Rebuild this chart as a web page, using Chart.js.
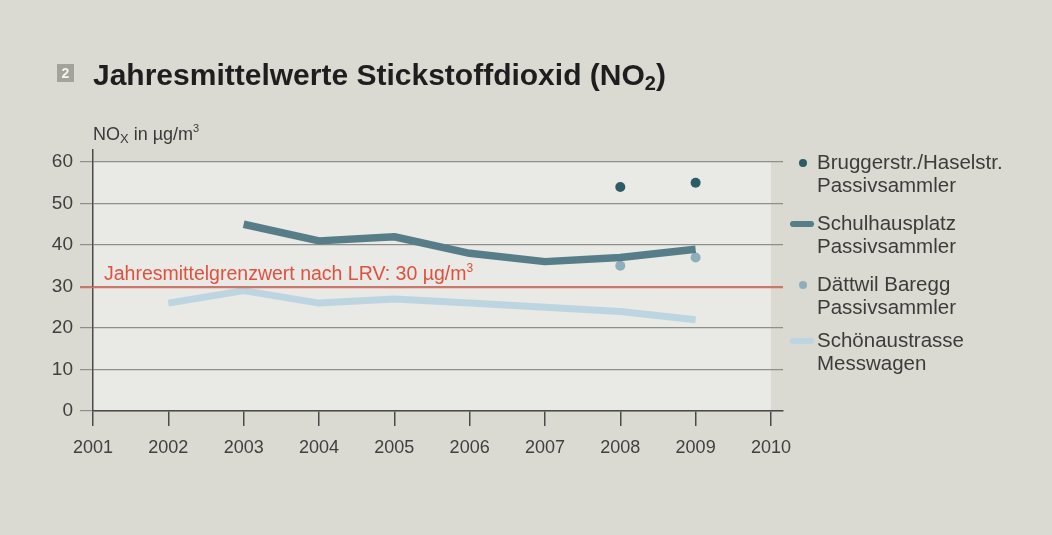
<!DOCTYPE html>
<html><head><meta charset="utf-8">
<script src="https://cdn.jsdelivr.net/npm/chart.js@4.4.0/dist/chart.umd.min.js"></script>
<style>html,body{margin:0;padding:0;background:#dadad2;}#wrap{width:1052px;height:535px;position:relative;}</style>
</head><body><div id="wrap"><canvas id="c" width="1052" height="535"></canvas></div>
<script>
const years = [2001,2002,2003,2004,2005,2006,2007,2008,2009,2010];
const yTicks = [0,10,20,30,40,50,60];
const bruggerYears = [2008,2009];
const bruggerValues = [54,55];
const schulYears = [2003,2004,2005,2006,2007,2008,2009];
const schulValues = [45,41,42,38,36,37,39];
const daettwilYears = [2008,2009];
const daettwilValues = [35,37];
const schoenYears = [2002,2003,2004,2005,2006,2007,2008,2009];
const schoenValues = [26,29,26,27,26,25,24,22];
const limitValue = 30;
const limitLabel = 'Jahresmittelgrenzwert nach LRV: 30 µg/m';
const seriesNames = [['Bruggerstr./Haselstr.','Passivsammler'],['Schulhausplatz','Passivsammler'],['Dättwil Baregg','Passivsammler'],['Schönaustrasse','Messwagen']];
const titleText = 'Jahresmittelwerte Stickstoffdioxid (NO';

const FONT = '"Liberation Sans", Arial, Helvetica, sans-serif';
const C_BRUG = '#2e5c64', C_SCHUL = '#567d88', C_DAET = '#8eaebb', C_SCHOEN = '#bcd5e1';
const pts = (xs, ys) => xs.map((x,i)=>({x, y: ys[i]}));

const deco = {
  id:'deco',
  beforeDraw(chart){
    const {ctx, scales:{x,y}} = chart;
    ctx.save();
    ctx.fillStyle = '#e9e9e5';
    const l = x.getPixelForValue(2001), r = x.getPixelForValue(2010);
    const t = y.getPixelForValue(60), b = y.getPixelForValue(0);
    ctx.fillRect(l, t, r-l, b-t);
    ctx.restore();
  },
  afterDatasetsDraw(chart){
    const {ctx, scales:{x,y}, chartArea} = chart;
    ctx.save();
    // limit line
    const ly = Math.round(y.getPixelForValue(limitValue))+0.5;
    ctx.strokeStyle = '#ec6a5a'; ctx.lineWidth = 1.3;
    ctx.beginPath(); ctx.moveTo(chartArea.left-13, ly); ctx.lineTo(chartArea.right, ly); ctx.stroke();
    ctx.fillStyle = '#e2503e'; ctx.font = '19.5px '+FONT; ctx.textBaseline='alphabetic'; ctx.textAlign='left';
    ctx.fillText(limitLabel, 104, ly-8);
    let lw = ctx.measureText(limitLabel).width;
    ctx.font = '12px '+FONT; ctx.fillText('3', 104+lw, ly-16);
    // title
    ctx.fillStyle = '#a3a39c'; ctx.fillRect(57,64,17,18);
    ctx.fillStyle = '#f4f4ef'; ctx.font = 'bold 14px '+FONT; ctx.textAlign='center';
    ctx.fillText('2', 65.5, 78);
    ctx.fillStyle = '#1e1e1e'; ctx.font = 'bold 30px '+FONT; ctx.textAlign='left';
    ctx.fillText(titleText, 93, 85);
    let w = ctx.measureText(titleText).width;
    ctx.font = 'bold 20px '+FONT; ctx.fillText('2', 93+w, 90);
    let w2 = ctx.measureText('2').width;
    ctx.font = 'bold 30px '+FONT; ctx.fillText(')', 93+w+w2, 85);
    // y title
    ctx.fillStyle = '#3a3a3a'; ctx.font = '18px '+FONT;
    ctx.fillText('NO', 93, 140);
    let a = ctx.measureText('NO').width;
    ctx.font = '13px '+FONT; ctx.fillText('X', 93+a, 143);
    let bx = ctx.measureText('X').width;
    ctx.font = '18px '+FONT; ctx.fillText(' in µg/m', 93+a+bx, 140);
    let c = ctx.measureText(' in µg/m').width;
    ctx.font = '11px '+FONT; ctx.fillText('3', 93+a+bx+c, 132);
    // legend
    const rows = [163, 224, 285, 341];
    const cols = [C_BRUG, C_SCHUL, C_DAET, C_SCHOEN];
    ctx.font = '20.5px '+FONT; ctx.textBaseline='middle';
    rows.forEach((ry,i)=>{
      ctx.fillStyle = cols[i]; ctx.strokeStyle = cols[i];
      if(i===0||i===2){ ctx.beginPath(); ctx.arc(803, ry, 4, 0, Math.PI*2); ctx.fill(); }
      else { ctx.lineWidth = 6; ctx.lineCap='round'; ctx.beginPath(); ctx.moveTo(793, ry); ctx.lineTo(811, ry); ctx.stroke(); }
      ctx.fillStyle = '#3c3c3a';
      ctx.fillText(seriesNames[i][0], 817, ry);
      ctx.fillText(seriesNames[i][1], 817, ry+23);
    });
    ctx.restore();
  }
};

new Chart(document.getElementById('c'), {
  type:'line',
  data:{ datasets:[
    {label:seriesNames[3].join(' '), data:pts(schoenYears, schoenValues), borderColor:C_SCHOEN, borderWidth:7, pointRadius:0, tension:0, borderJoinStyle:'round'},
    {label:seriesNames[1].join(' '), data:pts(schulYears, schulValues), borderColor:C_SCHUL, borderWidth:7.5, pointRadius:0, tension:0, borderJoinStyle:'round'},
    {label:seriesNames[2].join(' '), data:pts(daettwilYears, daettwilValues), showLine:false, pointRadius:5, pointBackgroundColor:C_DAET, pointBorderWidth:0},
    {label:seriesNames[0].join(' '), data:pts(bruggerYears, bruggerValues), showLine:false, pointRadius:5, pointBackgroundColor:C_BRUG, pointBorderWidth:0}
  ]},
  options:{
    responsive:false, animation:false, events:[],
    layout:{padding:{top:150, right:269, left:0, bottom:0}},
    plugins:{legend:{display:false}, tooltip:{enabled:false}},
    scales:{
      x:{type:'linear', min:2001, max:2010.16,
        afterBuildTicks(s){ s.ticks = years.map(v=>({value:v})); },
        afterFit(s){ s.height = 124; },
        ticks:{callback:v=>String(v), color:'#404040', font:{family:FONT, size:18}, padding:11, maxRotation:0, autoSkip:false},
        grid:{drawOnChartArea:false, drawTicks:true, tickLength:15, color:'#4a4a4a', lineWidth:1.5},
        border:{color:'#4a4a4a', width:1.5}
      },
      y:{min:0, max:62.9,
        afterBuildTicks(s){ s.ticks = yTicks.map(v=>({value:v})); },
        afterFit(s){ s.width = 93; },
        ticks:{color:'#404040', font:{family:FONT, size:19}, padding:7},
        grid:{color:'#8e8e8a', lineWidth:1.2, tickLength:13, drawTicks:true},
        border:{color:'#4a4a4a', width:1.5}
      }
    }
  },
  plugins:[deco]
});
</script></body></html>
